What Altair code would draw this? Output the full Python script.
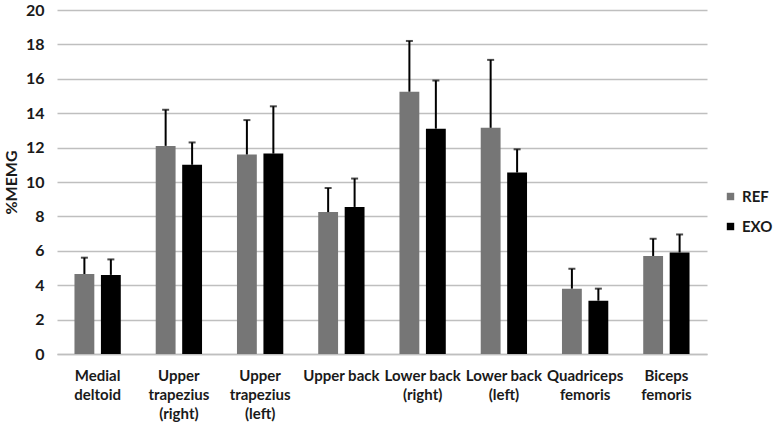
import altair as alt
import pandas as pd

categories = ["Medial\ndeltoid", "Upper\ntrapezius\n(right)", "Upper\ntrapezius\n(left)",
              "Upper back", "Lower back\n(right)", "Lower back\n(left)",
              "Quadriceps\nfemoris", "Biceps\nfemoris"]
ref_mean = [4.65, 12.1, 11.6, 8.25, 15.25, 13.15, 3.8, 5.7]
ref_upper = [5.6, 14.2, 13.6, 9.65, 18.2, 17.1, 4.95, 6.7]
exo_mean = [4.6, 11.0, 11.65, 8.55, 13.1, 10.55, 3.1, 5.9]
exo_upper = [5.5, 12.3, 14.4, 10.2, 15.9, 11.9, 3.8, 6.95]
groups = ["REF", "EXO"]
y_ticks = [0, 2, 4, 6, 8, 10, 12, 14, 16, 18, 20]

rows = []
for i, c in enumerate(categories):
    rows.append({"muscle": c, "group": "REF", "value": ref_mean[i], "upper": ref_upper[i]})
    rows.append({"muscle": c, "group": "EXO", "value": exo_mean[i], "upper": exo_upper[i]})
df = pd.DataFrame(rows)

FONT = "Lato"

x_axis = alt.Axis(labelExpr="split(datum.label, '\\n')", labelAngle=0,
                  labelFont=FONT, labelFontWeight="bold", labelFontSize=15,
                  labelColor="#1a1a1a", labelPadding=14, labelLineHeight=19,
                  ticks=False, grid=False, domain=True, domainColor="#bfbfbf",
                  domainWidth=1.3)
y_axis = alt.Axis(values=y_ticks, grid=True, gridColor="#bfbfbf",
                  gridWidth=1.3, domain=False, ticks=False, labelOverlap=False,
                  labelFont=FONT, labelFontWeight="bold", labelFontSize=16,
                  labelColor="#1a1a1a", labelPadding=13,
                  titleFont=FONT, titleFontWeight="bold", titleFontSize=16,
                  titleColor="#1a1a1a", titlePadding=6)
x_scale = alt.Scale(paddingInner=0.43, paddingOuter=0.215)
y_scale = alt.Scale(domain=[0, 20])


def xenc():
    return alt.X("muscle:N", sort=categories, title=None, scale=x_scale, axis=x_axis)


def xoenc():
    return alt.XOffset("group:N", sort=groups, scale=alt.Scale(paddingInner=0.25))


bars = alt.Chart(df).mark_bar().encode(
    x=xenc(), xOffset=xoenc(),
    y=alt.Y("value:Q", scale=y_scale, title="%MEMG", axis=y_axis),
    color=alt.Color("group:N", sort=groups,
                    scale=alt.Scale(domain=groups, range=["#767676", "#000000"]),
                    legend=alt.Legend(title=None, orient="none", legendX=666, legendY=179,
                                      symbolType="square", symbolSize=55,
                                      symbolStrokeWidth=0,
                                      labelFont=FONT, labelFontWeight="bold",
                                      labelFontSize=15, labelColor="#1a1a1a",
                                      rowPadding=14, labelOffset=4))
)

err = alt.Chart(df).mark_rule(color="black", strokeWidth=2).encode(
    x=xenc(), xOffset=xoenc(),
    y=alt.Y("value:Q", scale=y_scale, title="%MEMG", axis=y_axis), y2="upper:Q"
)
caps = alt.Chart(df).mark_tick(color="black", thickness=2, size=7).encode(
    x=xenc(), xOffset=xoenc(),
    y=alt.Y("upper:Q", scale=y_scale, title="%MEMG", axis=y_axis)
)

chart = alt.layer(bars, err, caps).properties(
    width=650, height=344, background="white",
    autosize=alt.AutoSizeParams(type="none"),
    padding={"left": 57, "top": 10, "right": 67, "bottom": 68}
).configure_view(strokeWidth=0, stroke="transparent")

chart.save("out.html", embed_options={"renderer": "svg", "actions": False})
